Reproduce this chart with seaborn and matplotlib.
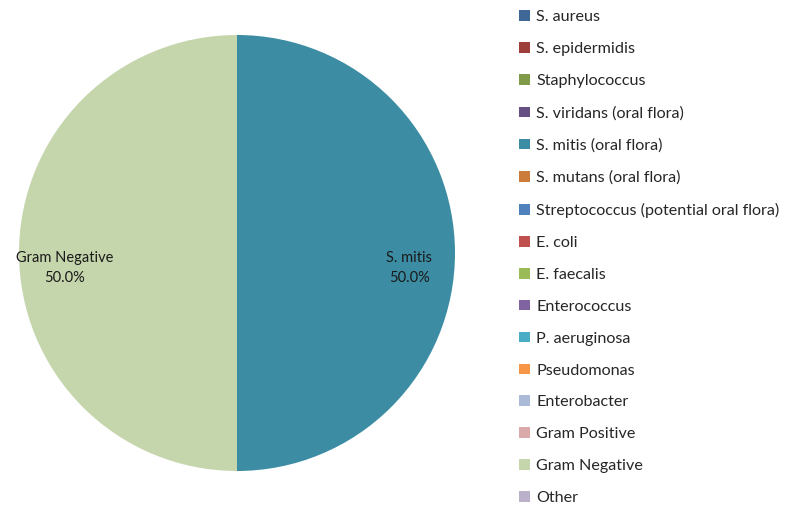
import seaborn as sns
import matplotlib.pyplot as plt
import numpy as np
from matplotlib.patches import Patch

sns.set_style("white")
plt.rcParams['font.family'] = ['Lato', 'DejaVu Sans']

# categorias de la leyenda y sus valores
categorias = ["S. aureus", "S. epidermidis", "Staphylococcus", "S. viridans (oral flora)",
              "S. mitis (oral flora)", "S. mutans (oral flora)",
              "Streptococcus (potential oral flora)", "E. coli", "E. faecalis",
              "Enterococcus", "P. aeruginosa", "Pseudomonas", "Enterobacter",
              "Gram Positive", "Gram Negative", "Other"]
etiquetas = ["S. aureus", "S. epidermidis", "Staphylococcus", "S. viridans", "S. mitis",
             "S. mutans", "Streptococcus", "E. coli", "E. faecalis", "Enterococcus",
             "P. aeruginosa", "Pseudomonas", "Enterobacter", "Gram Positive",
             "Gram Negative", "Other"]
valores = [0, 0, 0, 0, 1, 0, 0, 0, 0, 0, 0, 0, 0, 0, 1, 0]
colores = ["#3F6797", "#9E3E3B", "#7F9A48", "#664F83", "#3C8DA3", "#CB7B3A",
           "#4F81BD", "#C0504D", "#9BBB59", "#8064A2", "#4BACC6", "#F79646",
           "#AABAD7", "#D9AAA9", "#C6D6AC", "#BAB0C9"]

fig = plt.figure(figsize=(7.97, 5.07), dpi=100)
ax = fig.add_axes([19/797, 36/507, 436/797, 436/507])

# solo se dibujan las porciones con valor
idx = [i for i, v in enumerate(valores) if v > 0]
vals = [valores[i] for i in idx]
wedges, _ = ax.pie(vals, colors=[colores[i] for i in idx], startangle=90,
                   counterclock=False, radius=1, wedgeprops=dict(linewidth=0))
total = sum(vals)
for w, i in zip(wedges, idx):
    ang = np.deg2rad((w.theta1 + w.theta2) / 2)
    x, y = 0.79 * np.cos(ang), 0.79 * np.sin(ang)
    ax.text(x, y + 0.01, f"{etiquetas[i]}\n{valores[i] / total * 100:.1f}%",
            ha="center", va="top", fontsize=10.5, color="#1a1a1a", linespacing=1.6)
ax.set_xlim(-1, 1)
ax.set_ylim(-1, 1)
ax.set_aspect("equal")
ax.axis("off")

handles = [Patch(facecolor=c, edgecolor="none") for c in colores]
fig.legend(handles, categorias, loc="upper left", bbox_to_anchor=(513/797, 1 - 4/507),
           frameon=False, fontsize=11.6, handlelength=0.65, handleheight=0.65,
           handletextpad=0.4, labelspacing=1.11, borderaxespad=0)

fig.savefig("out.png", dpi=100)
